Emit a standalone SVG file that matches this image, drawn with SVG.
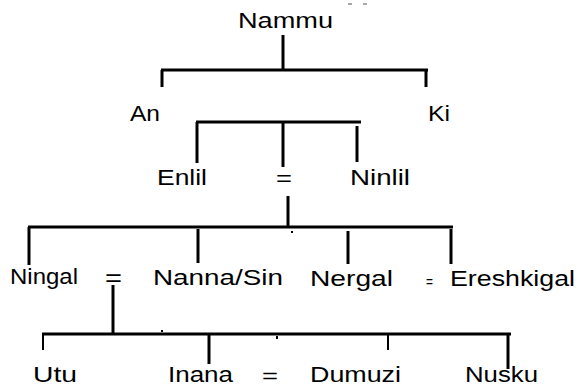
<svg xmlns="http://www.w3.org/2000/svg" width="578" height="387" viewBox="0 0 578 387">
<style>
  .ln { stroke: #000; stroke-width: 3; fill: none; stroke-linecap: butt; }
  .thin { stroke: #000; stroke-width: 2; fill: none; }
  .lbl { font-family: "Liberation Sans", Arial, sans-serif; font-size: 22.5px; fill: #000; }
  .eq { font-family: "Liberation Sans", Arial, sans-serif; fill: #000; }
  .mark { stroke: #888; stroke-width: 1.5; }
</style>
<rect width="578" height="387" fill="#fff"/>
<g id="connectors">
  <line class="ln" x1="283" y1="35" x2="283" y2="70"/>
  <line class="ln" x1="161" y1="70" x2="428" y2="70"/>
  <line class="ln" x1="162" y1="70" x2="162" y2="87"/>
  <line class="ln" x1="426" y1="70" x2="426" y2="87"/>
  <line class="ln" x1="196" y1="122" x2="361" y2="122"/>
  <line class="ln" x1="197" y1="122" x2="197" y2="163"/>
  <line class="ln" x1="283" y1="122" x2="283" y2="167"/>
  <line class="ln" x1="357" y1="126" x2="357" y2="162"/>
  <line class="ln" x1="288" y1="196" x2="288" y2="227"/>
  <line class="ln" x1="28" y1="227" x2="453" y2="227"/>
  <line class="ln" x1="29" y1="227" x2="29" y2="265"/>
  <line class="ln" x1="198" y1="229" x2="198" y2="263"/>
  <line class="ln" x1="348" y1="231" x2="348" y2="264"/>
  <line class="ln" x1="451" y1="229" x2="451" y2="264"/>
  <line class="ln" x1="113" y1="285" x2="113" y2="334"/>
  <line class="ln" x1="42" y1="334" x2="511" y2="334"/>
  <line class="thin" x1="43" y1="334" x2="43" y2="350"/>
  <line class="ln" x1="209" y1="335" x2="209" y2="364"/>
  <line class="thin" x1="388" y1="335" x2="388" y2="350"/>
  <line class="ln" x1="508" y1="335" x2="508" y2="369"/>
  <rect x="291" y="231" width="2" height="2" fill="#000"/>
  <rect x="161" y="330" width="2" height="2" fill="#000"/>
  <rect x="276" y="336" width="2" height="3" fill="#000"/>
  <line class="mark" x1="348" y1="4" x2="352" y2="4"/>
  <line class="mark" x1="363" y1="4" x2="367" y2="4"/>
</g>
<g id="node-nammu"><text class="lbl" x="238" y="28" textLength="95" lengthAdjust="spacingAndGlyphs">Nammu</text></g>
<g id="node-an"><text class="lbl" x="130" y="121" textLength="30" lengthAdjust="spacingAndGlyphs">An</text></g>
<g id="node-ki"><text class="lbl" x="428" y="121" textLength="22" lengthAdjust="spacingAndGlyphs">Ki</text></g>
<g id="node-enlil"><text class="lbl" x="157" y="185" textLength="50" lengthAdjust="spacingAndGlyphs">Enlil</text></g>
<g id="eq-enlil-ninlil"><text class="eq" x="276" y="186" font-size="22" textLength="16" lengthAdjust="spacingAndGlyphs">=</text></g>
<g id="node-ninlil"><text class="lbl" x="350" y="185" textLength="60" lengthAdjust="spacingAndGlyphs">Ninlil</text></g>
<g id="node-ningal"><text class="lbl" x="10" y="284" textLength="68" lengthAdjust="spacingAndGlyphs">Ningal</text></g>
<g id="eq-ningal-nanna"><text class="eq" x="105" y="286" font-size="24" textLength="17" lengthAdjust="spacingAndGlyphs">=</text></g>
<g id="node-nanna"><text class="lbl" x="153" y="285" textLength="130" lengthAdjust="spacingAndGlyphs">Nanna/Sin</text></g>
<g id="node-nergal"><text class="lbl" x="310" y="286" textLength="83" lengthAdjust="spacingAndGlyphs">Nergal</text></g>
<g id="eq-nergal-ereshkigal"><text class="eq" x="426" y="287" font-size="15" textLength="7" lengthAdjust="spacingAndGlyphs">=</text></g>
<g id="node-ereshkigal"><text class="lbl" x="450" y="286" textLength="125" lengthAdjust="spacingAndGlyphs">Ereshkigal</text></g>
<g id="node-utu"><text class="lbl" x="33" y="382" textLength="44" lengthAdjust="spacingAndGlyphs">Utu</text></g>
<g id="node-inana"><text class="lbl" x="168" y="382" textLength="65" lengthAdjust="spacingAndGlyphs">Inana</text></g>
<g id="eq-inana-dumuzi"><text class="eq" x="262" y="383" font-size="20" textLength="16" lengthAdjust="spacingAndGlyphs">=</text></g>
<g id="node-dumuzi"><text class="lbl" x="310" y="382" textLength="91" lengthAdjust="spacingAndGlyphs">Dumuzi</text></g>
<g id="node-nusku"><text class="lbl" x="465" y="382" textLength="73" lengthAdjust="spacingAndGlyphs">Nusku</text></g>
</svg>
